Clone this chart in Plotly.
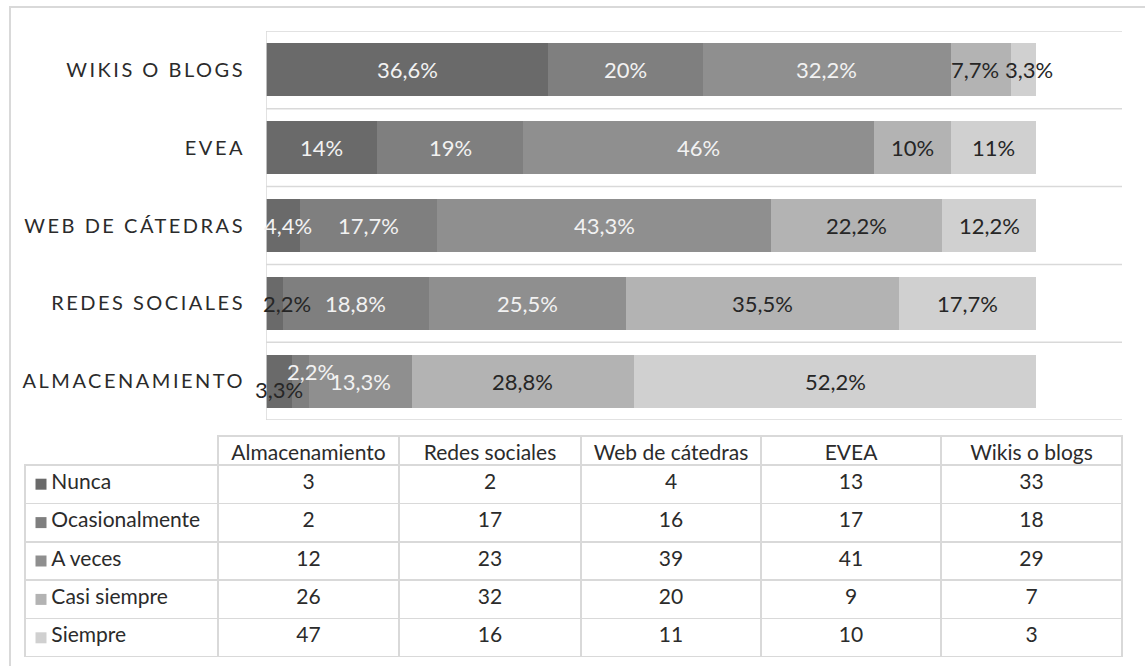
import plotly.graph_objects as go

# ---------------- data ----------------
categories = ["Almacenamiento", "Redes sociales", "Web de cátedras", "EVEA", "Wikis o blogs"]
series_names = ["Nunca", "Ocasionalmente", "A veces", "Casi siempre", "Siempre"]

nunca = [3, 2, 4, 13, 33]
ocasionalmente = [2, 17, 16, 17, 18]
a_veces = [12, 23, 39, 41, 29]
casi_siempre = [26, 32, 20, 9, 7]
siempre = [47, 16, 11, 10, 3]

nunca_labels = ["3,3%", "2,2%", "4,4%", "14%", "36,6%"]
ocasionalmente_labels = ["2,2%", "18,8%", "17,7%", "19%", "20%"]
a_veces_labels = ["13,3%", "25,5%", "43,3%", "46%", "32,2%"]
casi_siempre_labels = ["28,8%", "35,5%", "22,2%", "10%", "7,7%"]
siempre_labels = ["52,2%", "17,7%", "12,2%", "11%", "3,3%"]

series_values = [nunca, ocasionalmente, a_veces, casi_siempre, siempre]
series_labels = [nunca_labels, ocasionalmente_labels, a_veces_labels,
                 casi_siempre_labels, siempre_labels]

# ---------------- style ----------------
colors = ["#6a6a6a", "#7f7f7f", "#8f8f8f", "#b3b3b3", "#d0d0d0"]
light_txt = "#f2f2f2"
dark_txt = "#262626"
label_colors = [light_txt, light_txt, light_txt, dark_txt, dark_txt]
# (series index, category index) -> (color, xshift, yshift)
label_overrides = {
    (0, 0): (dark_txt, 0, -8),
    (1, 0): (light_txt, 11, 10),
    (0, 1): (dark_txt, 12, 0),
    (0, 2): (light_txt, 5, 0),
    (3, 4): (dark_txt, -6, 0),
    (4, 4): (dark_txt, 5, 0),
}
FONT = "Lato, Carlito, 'Open Sans', sans-serif"
TXT = "#2b2b2b"
grid_col = "#d9d9d9"

W, H = 1145, 666
ml, mr, mt, mb = 25, 23, 31, 9
pw, ph = W - ml - mr, H - mt - mb
plot_left_px, plot_bottom_px = 266, 420
table_top_px = 436
header_h, row_h = 29, 38.4
col_widths = [193, 181, 182, 180, 180, 181]
key_x = 16  # legend-key centre, px from table's left edge

fig = go.Figure()

for name, vals, col in zip(series_names, series_values, colors):
    fig.add_trace(go.Bar(
        y=categories, x=vals, name=name, orientation="h",
        marker=dict(color=col, line=dict(width=0)),
        width=0.68, hoverinfo="skip", showlegend=False,
        xaxis="x", yaxis="y",
    ))

annotations = []
for si, (vals, labs) in enumerate(zip(series_values, series_labels)):
    for ci, cat in enumerate(categories):
        start = sum(series_values[k][ci] for k in range(si))
        color, xs, ys = label_overrides.get((si, ci), (label_colors[si], 0, 0))
        annotations.append(dict(
            x=start + vals[ci] / 2, y=cat, xref="x", yref="y",
            text=labs[ci], showarrow=False, xshift=xs, yshift=ys,
            font=dict(family=FONT, size=22, color=color),
        ))

shapes = []
for k in range(len(categories) + 1):
    shapes.append(dict(type="line", xref="x", yref="y", x0=0, x1=100,
                       y0=k - 0.5, y1=k - 0.5, line=dict(color=grid_col, width=1.5)))
shapes.append(dict(type="line", xref="x", yref="y", x0=0, x1=0,
                   y0=-0.5, y1=len(categories) - 0.5, line=dict(color=grid_col, width=1.5)))
# outer chart frame
shapes.append(dict(type="rect", xref="paper", yref="paper",
                   x0=(10 - ml) / pw, x1=1.2, y0=-0.2, y1=(H - mb - 7) / ph,
                   line=dict(color=grid_col, width=2), fillcolor="rgba(0,0,0,0)"))

# legend keys inside the table's first column (drawn under the transparent table)
rows_top_px = table_top_px + header_h
fig.add_trace(go.Scatter(
    x=[key_x] * len(series_names), y=list(range(len(series_names))),
    mode="markers", marker=dict(symbol="square", size=11, color=colors, line=dict(width=0)),
    xaxis="x2", yaxis="y2", hoverinfo="skip", showlegend=False,
))

# data table
row_labels = ["\u2003\u2009" + n for n in series_names]
columns = [row_labels] + [[s[ci] for s in series_values] for ci in range(len(categories))]
fig.add_trace(go.Table(
    domain=dict(x=[0, 1], y=[0, (H - mb - table_top_px) / ph]),
    columnwidth=col_widths,
    header=dict(values=[""] + categories, height=header_h,
                align="center", fill_color="rgba(0,0,0,0)",
                line=dict(color=["rgba(0,0,0,0)"] + [grid_col] * 5, width=1.5),
                font=dict(family=FONT, size=21, color=TXT)),
    cells=dict(values=columns, height=row_h,
               align=["left"] + ["center"] * 5, fill_color="rgba(0,0,0,0)",
               line=dict(color=grid_col, width=1.5),
               font=dict(family=FONT, size=21, color=TXT)),
))

fig.update_layout(
    width=W, height=H, barmode="stack",
    margin=dict(l=ml, r=mr, t=mt, b=mb),
    paper_bgcolor="white", plot_bgcolor="rgba(0,0,0,0)",
    xaxis=dict(domain=[(plot_left_px - ml) / pw, 1], range=[0, 100], visible=False, fixedrange=True),
    yaxis=dict(domain=[(H - mb - plot_bottom_px) / ph, 1], range=[-0.5, 4.5],
               type="category", categoryorder="array", categoryarray=categories,
               tickvals=categories, ticktext=[c.upper() for c in categories],
               showgrid=False, showline=False, zeroline=False, ticks="",
               ticklabelstandoff=20,
               tickfont=dict(family=FONT, size=20, color=TXT)),
    xaxis2=dict(domain=[0, col_widths[0] / pw], range=[0, col_widths[0]], visible=False,
                anchor="y2", fixedrange=True),
    yaxis2=dict(domain=[0, (H - mb - rows_top_px) / ph],
                range=[len(series_names) - 0.5, -0.5], visible=False,
                anchor="x2", fixedrange=True),
    annotations=annotations, shapes=shapes,
    font=dict(family=FONT),
)

post = """
document.body.style.margin='0';
var gd=document.getElementById('{plot_id}');
gd.querySelectorAll('.ytick text').forEach(function(t){t.setAttribute('letter-spacing','2.5px');});
"""
fig.write_html("out.html", post_script=post, config={"displayModeBar": False})
